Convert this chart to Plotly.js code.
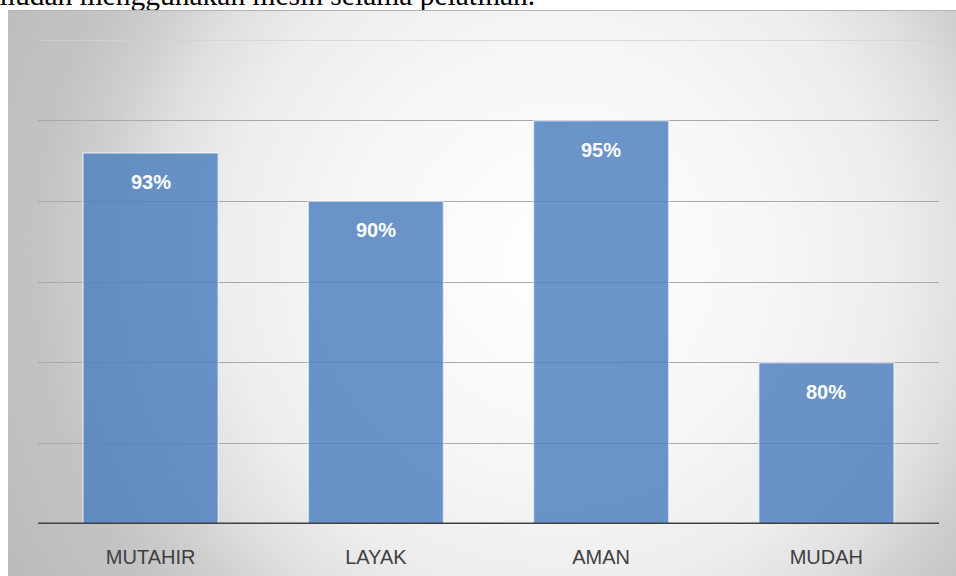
<!DOCTYPE html>
<html>
<head>
<meta charset="utf-8">
<script src="https://cdn.plot.ly/plotly-3.0.1.min.js"></script>
<style>
  html, body { margin: 0; padding: 0; background: #ffffff; overflow: hidden; }
  #wrap { position: relative; width: 956px; height: 576px; overflow: hidden; }
  #caption { position: absolute; left: -8px; top: -21px; font-family: "Liberation Serif", "Times New Roman", serif; font-size: 29.5px; color: #000; white-space: nowrap; z-index: 1; }
  #box { position: absolute; left: 8px; top: 10px; width: 948px; height: 566px; z-index: 2;
         border-top: 1px solid #b4b4b4;
         background: radial-gradient(circle at 58% 44%, #ffffff 0px, #f7f7f7 190px, #eeeeee 330px, #e0e0e0 405px, #cfcfcf 462px, #c3c3c3 520px, #bababa 640px); }
  #chart { position: absolute; left: 0; top: 0; width: 956px; height: 576px; z-index: 3; }
</style>
</head>
<body>
<div id="wrap">
  <div id="caption">mudah menggunakan mesin selama pelatihan.</div>
  <div id="box"></div>
  <div id="chart"></div>
</div>
<script>
const categories = ["MUTAHIR", "LAYAK", "AMAN", "MUDAH"];
const values = [93, 90, 95, 80];
const valueLabels = values.map(v => v + "%");
const gridValues = [75, 80, 85, 90, 95];
const axisMin = 70;
const axisMax = 100;

const trace = {
  type: "bar",
  x: categories,
  y: values,
  marker: {
    color: "rgba(79,129,189,0.84)",
    line: { color: "rgba(255,255,255,0.55)", width: 1.5 }
  },
  hoverinfo: "none"
};

const annotations = categories.map((c, i) => ({
  x: c, y: values[i], xref: "x", yref: "y",
  text: "<b>" + valueLabels[i] + "</b>",
  showarrow: false, yanchor: "middle", yshift: -29,
  font: { family: "Liberation Sans, Arial, sans-serif", size: 20, color: "#ffffff" }
}));

const layout = {
  width: 956, height: 576,
  margin: { l: 38, r: 17, t: 40, b: 52 },
  paper_bgcolor: "rgba(0,0,0,0)",
  plot_bgcolor: "rgba(0,0,0,0)",
  bargap: 0.4,
  showlegend: false,
  xaxis: {
    type: "category",
    tickfont: { family: "Liberation Sans, Arial, sans-serif", size: 20, color: "#404040" },
    ticks: "", showline: false, showgrid: false, zeroline: false,
    ticklabelstandoff: 19
  },
  yaxis: {
    range: [axisMin, axisMax],
    tickvals: gridValues,
    showticklabels: false,
    showgrid: true, gridcolor: "#a9a9a9", gridwidth: 1,
    zeroline: false, showline: false, ticks: ""
  },
  shapes: [
    { type: "line", xref: "paper", yref: "y", x0: 0, x1: 1, y0: axisMax, y1: axisMax,
      layer: "below", line: { color: "#d2d2d2", width: 1.5 } },
    { type: "line", xref: "paper", yref: "y", x0: 0, x1: 1, y0: axisMin, y1: axisMin,
      line: { color: "#404040", width: 3 } }
  ],
  annotations: annotations
};

Plotly.newPlot("chart", [trace], layout, { displayModeBar: false, staticPlot: true });
</script>
</body>
</html>
